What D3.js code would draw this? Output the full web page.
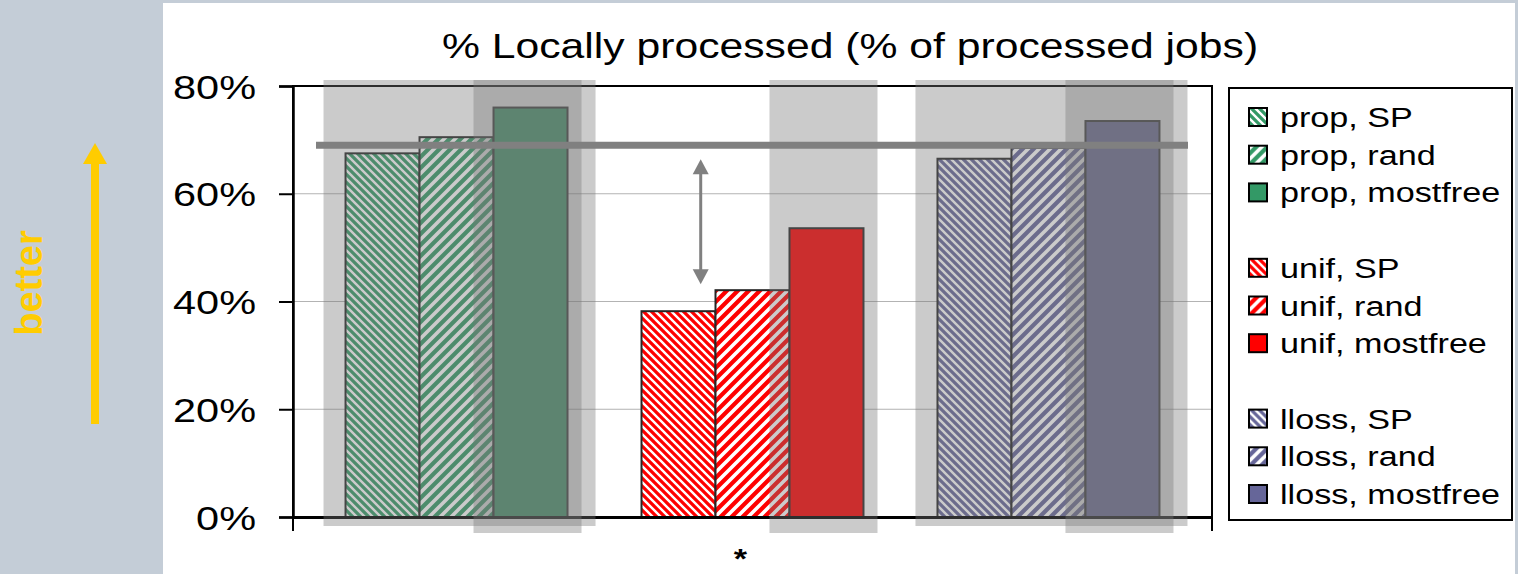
<!DOCTYPE html>
<html>
<head>
<meta charset="utf-8">
<script src="https://cdn.jsdelivr.net/npm/d3@7"></script>
<style>
  html, body { margin: 0; padding: 0; background: #fff; }
  svg { display: block; font-family: "Liberation Sans", Arial, sans-serif; }
</style>
</head>
<body>
<svg id="chart" width="1518" height="574"></svg>
<script>
// ---- data ----
const categories = ["*"];
const groups = ["prop", "unif", "lloss"];
const methods = ["SP", "rand", "mostfree"];
const propValues = [67.5, 70.5, 76.0];
const unifValues = [38.2, 42.1, 53.6];
const llossValues = [66.5, 68.5, 73.5];
const yTicks = [0, 20, 40, 60, 80];
const referenceLevel = 69.0;          // horizontal reference bar
const gapArrowRange = [66.4, 43.2];   // double-headed arrow span
const titleText = "% Locally processed (% of processed jobs)";
const betterLabel = "better";

const groupValues = { prop: propValues, unif: unifValues, lloss: llossValues };
const groupColors = { prop: "#339966", unif: "#FF0000", lloss: "#666699" };
const highlightedGroups = ["prop", "lloss"];
const highlightedMethod = "mostfree";

// ---- layout ----
const W = 1518, H = 574;
const plot = { left: 293, right: 1212, top: 86, bottom: 517 };
const sx = 1.22;   // horizontal text stretch
const font = '"Liberation Sans", Arial, sans-serif';

const svg = d3.select("#chart");

// background panels
svg.append("rect").attr("width", W).attr("height", H).attr("fill", "#c4cdd7");
svg.append("rect").attr("x", 163).attr("y", 3).attr("width", 1352).attr("height", H - 3).attr("fill", "#ffffff");

// slots: every series, with an empty slot between the groups
const slots = [];
groups.forEach((g, gi) => {
  methods.forEach(m => slots.push(g + "|" + m));
  if (gi < groups.length - 1) slots.push("gap" + gi);
});

const xCat = d3.scaleBand().domain(categories).range([plot.left, plot.right]);
const x = d3.scaleBand().domain(slots)
  .range([xCat(categories[0]), xCat(categories[0]) + xCat.bandwidth()])
  .paddingInner(0).paddingOuter(0.71);
const y = d3.scaleLinear().domain([0, 80]).range([plot.bottom, plot.top]);
const bw = x.bandwidth();

// patterns
const defs = svg.append("defs");
groups.forEach(g => {
  const c = groupColors[g];
  const p1 = defs.append("pattern").attr("id", "pat-" + g + "-SP")
    .attr("patternUnits", "userSpaceOnUse").attr("width", 8).attr("height", 8);
  p1.append("rect").attr("width", 8).attr("height", 8).attr("fill", c);
  p1.append("path").attr("d", "M0,0L8,8M-4,4L4,12M4,-4L12,4")
    .attr("stroke", "#fff").attr("stroke-width", 2.4);
  const p2 = defs.append("pattern").attr("id", "pat-" + g + "-rand")
    .attr("patternUnits", "userSpaceOnUse").attr("width", 11).attr("height", 11);
  p2.append("rect").attr("width", 11).attr("height", 11).attr("fill", c);
  p2.append("path").attr("d", "M0,11L11,0M-5.5,5.5L5.5,-5.5M5.5,16.5L16.5,5.5")
    .attr("stroke", "#fff").attr("stroke-width", 3.6);
});
function fillFor(g, m) {
  return m === "mostfree" ? groupColors[g] : `url(#pat-${g}-${m})`;
}

// gridlines
svg.append("g").selectAll("line").data(yTicks.filter(t => t > 0 && t < 80)).join("line")
  .attr("x1", plot.left).attr("x2", plot.right)
  .attr("y1", d => y(d)).attr("y2", d => y(d))
  .attr("stroke", "#b3b3b3").attr("stroke-width", 1);

// bars
const barData = [];
groups.forEach(g => methods.forEach((m, i) => barData.push({ g, m, v: groupValues[g][i] })));
svg.append("g").selectAll("rect").data(barData).join("rect")
  .attr("x", d => x(d.g + "|" + d.m))
  .attr("y", d => y(d.v))
  .attr("width", bw)
  .attr("height", d => y(0) - y(d.v))
  .attr("fill", d => fillFor(d.g, d.m))
  .attr("stroke", "#262626").attr("stroke-width", 2);

// plot frame and axes
svg.append("rect").attr("x", plot.left).attr("y", plot.top)
  .attr("width", plot.right - plot.left).attr("height", plot.bottom - plot.top)
  .attr("fill", "none").attr("stroke", "#000").attr("stroke-width", 2);

const yAxis = svg.append("g").attr("transform", `translate(${plot.left},0)`)
  .call(d3.axisLeft(y).tickValues(yTicks).tickSize(14).tickPadding(0).tickFormat(d => d + "%"));
yAxis.select(".domain").attr("stroke", "#000").attr("stroke-width", 2.5);
yAxis.selectAll(".tick line").attr("stroke", "#000").attr("stroke-width", 2);
yAxis.selectAll(".tick text")
  .attr("x", -37 / sx).attr("dy", "0.36em")
  .attr("transform", `scale(${sx},1)`)
  .attr("font-family", font).attr("font-size", 34).attr("fill", "#000");

const xAxis = svg.append("g").attr("transform", `translate(0,${plot.bottom})`)
  .call(d3.axisBottom(xCat).tickSize(0).tickPadding(0));
xAxis.select(".domain").attr("stroke", "#000").attr("stroke-width", 3);
xAxis.selectAll(".tick text").attr("y", 0).attr("dy", 0)
  .attr("transform", `translate(-12,51) scale(${sx},1)`)
  .attr("font-family", font).attr("font-size", 28).attr("font-weight", "bold").attr("fill", "#000");
// category boundary ticks
svg.append("g").selectAll("line").data([plot.left, plot.right]).join("line")
  .attr("x1", d => d).attr("x2", d => d)
  .attr("y1", plot.bottom).attr("y2", plot.bottom + 14)
  .attr("stroke", "#000").attr("stroke-width", 2);

// translucent highlight panels
const overlay = svg.append("g").attr("fill", "rgb(120,120,120)").attr("fill-opacity", 0.385);
highlightedGroups.forEach(g => {
  const x0 = x(g + "|" + methods[0]);
  const x1 = x(g + "|" + methods[methods.length - 1]) + bw;
  const cx = (x0 + x1) / 2 + 3;
  overlay.append("rect").attr("x", cx - 136).attr("width", 272)
    .attr("y", y(80) - 6).attr("height", y(0) + 9 - (y(80) - 6));
});
groups.forEach(g => {
  const cx = x(g + "|" + highlightedMethod) + bw / 2 - 3;
  overlay.append("rect").attr("x", cx - 54).attr("width", 108)
    .attr("y", y(80) - 6).attr("height", y(0) + 16 - (y(80) - 6));
});

// reference level bar
svg.append("line")
  .attr("x1", plot.left + 23).attr("x2", plot.right - 24)
  .attr("y1", y(referenceLevel)).attr("y2", y(referenceLevel))
  .attr("stroke", "#808080").attr("stroke-width", 7);

// double-headed gap arrow
const ax = x("unif|SP") + bw * 0.8;
const yTop = y(gapArrowRange[0]), yBot = y(gapArrowRange[1]);
const arrow = svg.append("g").attr("fill", "#808080");
svg.append("line").attr("x1", ax).attr("x2", ax).attr("y1", yTop + 12).attr("y2", yBot - 12)
  .attr("stroke", "#808080").attr("stroke-width", 3);
arrow.append("path").attr("d", `M${ax},${yTop}L${ax - 8},${yTop + 15}L${ax + 8},${yTop + 15}Z`);
arrow.append("path").attr("d", `M${ax},${yBot}L${ax - 8},${yBot - 15}L${ax + 8},${yBot - 15}Z`);

// title
svg.append("text")
  .attr("transform", `translate(850,58) scale(${sx},1)`)
  .attr("text-anchor", "middle")
  .attr("font-family", font).attr("font-size", 35).attr("fill", "#000")
  .text(titleText);

// legend
const legend = svg.append("g");
legend.append("rect").attr("x", 1229).attr("y", 88).attr("width", 283).attr("height", 432)
  .attr("fill", "#fff").attr("stroke", "#000").attr("stroke-width", 2);
const rowH = 37.7;
const legendRows = [];
groups.forEach((g, gi) => methods.forEach((m, mi) => legendRows.push({ g, m, row: gi * 4 + mi })));
const lg = legend.selectAll("g.item").data(legendRows).join("g")
  .attr("transform", d => `translate(0,${117 + d.row * rowH})`);
lg.append("rect").attr("x", 1249).attr("y", -9).attr("width", 18).attr("height", 18)
  .attr("fill", d => fillFor(d.g, d.m)).attr("stroke", "#000").attr("stroke-width", 2);
lg.append("text")
  .attr("transform", `translate(1280,10) scale(${sx},1)`)
  .attr("font-family", font).attr("font-size", 28).attr("fill", "#000")
  .text(d => `${d.g}, ${d.m}`);

// "better" arrow on the side panel
const yellow = "#FFCC00";
svg.append("line").attr("x1", 95).attr("x2", 95).attr("y1", 424).attr("y2", 160)
  .attr("stroke", yellow).attr("stroke-width", 8);
svg.append("path").attr("d", "M95,143L83,164L107,164Z").attr("fill", yellow);
svg.append("text")
  .attr("transform", "translate(42,283) rotate(-90)")
  .attr("text-anchor", "middle")
  .attr("font-family", font).attr("font-size", 38).attr("font-weight", "bold").attr("fill", yellow)
  .text(betterLabel);
</script>
</body>
</html>
